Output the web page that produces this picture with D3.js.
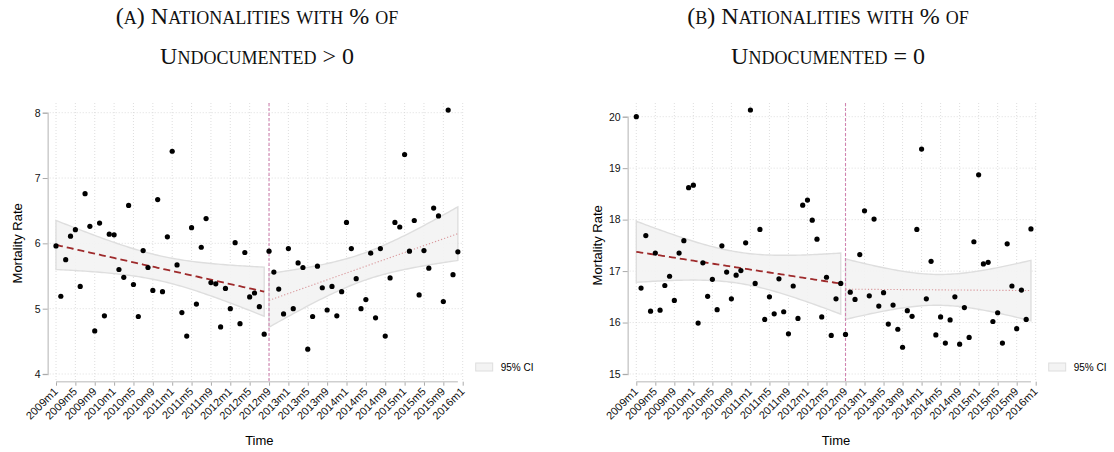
<!DOCTYPE html>
<html>
<head>
<meta charset="utf-8">
<script src="https://cdn.jsdelivr.net/npm/d3@7"></script>
<style>
  body { margin: 0; background: #fff; }
  .tick text { font-family: "Liberation Sans", Arial, sans-serif; }
</style>
</head>
<body>
<div id="chart"></div>
<script>

// monthly mortality rates, 2009m1 .. 2015m12
var rateA = [5.96,5.19,5.75,6.11,6.21,5.34,6.76,6.26,4.66,6.31,
             4.89,6.14,6.13,5.60,5.48,6.58,5.37,4.88,5.89,5.63,
             5.28,6.67,5.26,6.10,7.41,5.67,4.94,4.58,6.24,5.07,
             5.94,6.38,5.40,5.38,4.72,5.31,5.00,6.01,4.77,5.86,
             5.18,5.24,5.03,4.61,5.88,5.56,5.30,4.92,5.92,5.00,
             5.70,5.63,4.38,4.88,5.65,5.32,4.98,5.34,4.89,5.26,
             6.32,5.92,5.46,5.00,5.14,5.85,4.86,5.92,4.58,5.47,
             6.32,6.25,7.36,5.88,6.35,5.21,5.89,5.62,6.54,6.42,
             5.11,8.04,5.52,5.87];

var rateB = [20.00,16.67,17.69,16.22,17.35,16.24,16.72,16.90,16.43,17.35,
             17.59,18.62,18.67,15.99,17.16,16.51,16.84,16.25,17.49,16.98,
             16.46,16.92,17.01,17.55,20.13,16.76,17.81,16.06,16.50,16.17,
             16.85,16.21,15.78,16.71,16.08,18.28,18.38,17.99,17.62,16.11,
             16.88,15.75,16.46,16.76,15.77,16.59,16.45,17.32,18.17,16.52,
             18.01,16.32,16.58,15.97,16.34,15.87,15.52,16.23,16.12,17.81,
             19.37,16.46,17.19,15.76,16.11,15.60,16.05,16.50,15.58,16.29,
             15.71,17.57,18.87,17.14,17.17,16.02,16.19,15.60,17.53,16.71,
             15.88,16.63,16.06,17.82];

var startYear = 2009;
var breakMonth = 44;          // 2012m9
var xTickMonths = d3.range(0, 85, 4);
var yTicksA = [4, 5, 6, 7, 8];
var yTicksB = [15, 16, 17, 18, 19, 20];

// written like the LaTeX source; lowercase is set as small caps below
var titlesA = ["(a) Nationalities with % of", "Undocumented > 0"];
var titlesB = ["(b) Nationalities with % of", "Undocumented = 0"];

var W = 1114, H = 452;

var svg = d3.select("#chart").append("svg")
    .attr("width", W).attr("height", H)
    .attr("viewBox", "0 0 " + W + " " + H);

function monthLabel(m) {
  return (startYear + Math.floor(m / 12)) + "m" + (m % 12 + 1);
}

// simple OLS with pointwise CI of the prediction
function fit(vals, m0, m1) {
  var pts = [];
  for (var m = m0; m <= m1; m++) pts.push([m, vals[m]]);
  var n = pts.length;
  var mx = d3.mean(pts, function(d) { return d[0]; });
  var my = d3.mean(pts, function(d) { return d[1]; });
  var sxx = d3.sum(pts, function(d) { return (d[0] - mx) * (d[0] - mx); });
  var sxy = d3.sum(pts, function(d) { return (d[0] - mx) * (d[1] - my); });
  var b = sxy / sxx, a = my - b * mx;
  var sse = d3.sum(pts, function(d) { var r = d[1] - a - b * d[0]; return r * r; });
  var s = Math.sqrt(sse / (n - 2));
  var t = 2.02;
  var grid = d3.range(m0, m1 + 0.001, 0.5);
  return grid.map(function(m) {
    var yh = a + b * m;
    var se = s * Math.sqrt(1 / n + (m - mx) * (m - mx) / sxx);
    return {m: m, y: yh, lo: yh - t * se, hi: yh + t * se};
  });
}

// split a string into runs of full-size / small-cap characters
function smallCapRuns(s) {
  var runs = [];
  for (var i = 0; i < s.length; i++) {
    var c = s[i];
    var small = c !== c.toUpperCase();
    var last = runs[runs.length - 1];
    if (last && last.small === small) last.text += c.toUpperCase();
    else runs.push({small: small, text: c.toUpperCase()});
  }
  return runs;
}

function panel(cfg) {
  var x = d3.scaleLinear().domain([0, 84]).range(cfg.xRange);
  var y = d3.scaleLinear().domain(cfg.yDomain).range([374, cfg.yTop]);
  var g = svg.append("g");
  var axisY = 381.7, gridTop = 103;

  // grid
  g.selectAll(".vgrid").data(xTickMonths).enter().append("line")
    .attr("x1", function(d) { return x(d); }).attr("x2", function(d) { return x(d); })
    .attr("y1", gridTop).attr("y2", axisY)
    .attr("stroke", "#d6d6d6").attr("stroke-width", 0.8)
    .attr("stroke-dasharray", "1,2");
  g.selectAll(".hgrid").data(cfg.yTicks).enter().append("line")
    .attr("x1", cfg.yAxisX + 2).attr("x2", x(84) + 1)
    .attr("y1", function(d) { return y(d); }).attr("y2", function(d) { return y(d); })
    .attr("stroke", "#d6d6d6").attr("stroke-width", 0.8)
    .attr("stroke-dasharray", "1,2");

  // fits and confidence bands
  var pre = fit(cfg.vals, 0, breakMonth - 1);
  var post = fit(cfg.vals, breakMonth, cfg.vals.length - 1);
  var area = d3.area()
    .x(function(d) { return x(d.m); })
    .y0(function(d) { return y(d.lo); })
    .y1(function(d) { return y(d.hi); });
  var line = d3.line()
    .x(function(d) { return x(d.m); })
    .y(function(d) { return y(d.y); });

  [pre, post].forEach(function(f) {
    g.append("path").datum(f).attr("d", area)
      .attr("fill", "#f3f3f3").attr("fill-opacity", 0.9)
      .attr("stroke", "#dedede").attr("stroke-width", 1.4);
  });

  // break line
  g.append("line")
    .attr("x1", x(breakMonth)).attr("x2", x(breakMonth))
    .attr("y1", gridTop).attr("y2", axisY)
    .attr("stroke", "#d183b0").attr("stroke-width", 1.1)
    .attr("stroke-dasharray", "3,2");

  g.append("path").datum(pre).attr("d", line)
    .attr("fill", "none").attr("stroke", "#9e2a2b").attr("stroke-width", 1.8)
    .attr("stroke-dasharray", "7,4");
  g.append("path").datum(post).attr("d", line)
    .attr("fill", "none").attr("stroke", "#d9979b").attr("stroke-width", 1.1)
    .attr("stroke-dasharray", "1.2,2");

  // points
  g.selectAll(".pt").data(cfg.vals).enter().append("circle")
    .attr("cx", function(d, i) { return x(i); })
    .attr("cy", function(d) { return y(d); })
    .attr("r", 2.6).attr("fill", "#000");

  // x axis
  var gx = g.append("g")
    .attr("transform", "translate(0," + axisY + ")")
    .call(d3.axisBottom(x).tickValues(xTickMonths).tickSize(4).tickFormat(monthLabel));
  gx.select(".domain").remove();
  gx.selectAll(".tick line").attr("stroke", "#aaa");
  gx.selectAll(".tick text")
    .attr("font-size", 11).attr("fill", "#111")
    .style("text-anchor", "end")
    .attr("x", -6).attr("y", 5).attr("dy", "0.35em")
    .attr("transform", "rotate(-45)");
  g.append("line")
    .attr("x1", x(0)).attr("x2", x(cfg.vals.length - 1))
    .attr("y1", axisY).attr("y2", axisY)
    .attr("stroke", "#cfcfcf").attr("stroke-width", 1.6);

  // y axis
  var gy = g.append("g")
    .attr("transform", "translate(" + cfg.yAxisX + ",0)")
    .call(d3.axisLeft(y).tickValues(cfg.yTicks).tickSize(5).tickFormat(d3.format("d")));
  gy.select(".domain").attr("stroke", "#cfcfcf").attr("stroke-width", 1.6);
  gy.selectAll(".tick line").attr("stroke", "#aaa");
  gy.selectAll(".tick text").attr("font-size", 10.5).attr("fill", "#111").attr("x", -7);

  // axis titles
  g.append("text")
    .attr("transform", "translate(" + (cfg.yAxisX - 26) + "," + y(d3.mean(cfg.yDomain)) + ")rotate(-90)")
    .attr("text-anchor", "middle")
    .attr("font-family", "Liberation Sans, Arial, sans-serif")
    .attr("font-size", 13).text("Mortality Rate");
  g.append("text")
    .attr("x", (x(0) + x(84)) / 2).attr("y", 445)
    .attr("text-anchor", "middle")
    .attr("font-family", "Liberation Sans, Arial, sans-serif")
    .attr("font-size", 13).text("Time");

  // legend
  g.append("rect")
    .attr("x", x(84) + 13).attr("y", 363).attr("width", 17).attr("height", 8)
    .attr("fill", "#f3f3f3").attr("stroke", "#dedede").attr("stroke-width", 1);
  g.append("text")
    .attr("x", x(84) + 38).attr("y", 367).attr("dy", "0.35em")
    .attr("font-family", "Liberation Sans, Arial, sans-serif")
    .attr("font-size", 10).text("95% CI");

  // title, two lines in small caps
  cfg.title.forEach(function(s, i) {
    var t = svg.append("text")
      .attr("x", cfg.titleX).attr("y", 23.5 + i * 40)
      .attr("text-anchor", "middle")
      .attr("font-family", "Liberation Serif, Times New Roman, serif")
      .attr("font-size", 24)
      .attr("fill", "#111");
    smallCapRuns(s).forEach(function(r) {
      t.append("tspan").attr("font-size", r.small ? 18 : 24)
        .style("white-space", "pre").text(r.text);
    });
  });
}

panel({vals: rateA, xRange: [56, 462.7], yDomain: [4, 8], yTop: 112.7,
       yTicks: yTicksA, yAxisX: 47.7, title: titlesA, titleX: 257});
panel({vals: rateB, xRange: [636.3, 1035.7], yDomain: [15, 20], yTop: 116.7,
       yTicks: yTicksB, yAxisX: 627.7, title: titlesB, titleX: 828});

</script>
</body>
</html>
